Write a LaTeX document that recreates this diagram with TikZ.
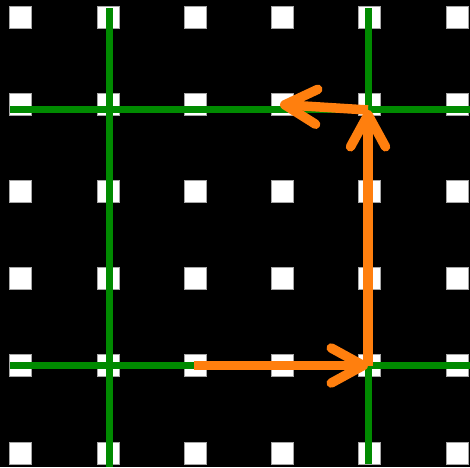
\documentclass[tikz,border=0pt]{standalone}
\usetikzlibrary{arrows.meta}
\definecolor{gridgreen}{RGB}{0,138,0}
\definecolor{arroworange}{RGB}{255,127,14}
\begin{document}
\begin{tikzpicture}[x=1pt,y=1pt,
  dot/.style={fill=white,draw=black!35,line width=0.6pt,minimum size=22pt,inner sep=0pt,outer sep=0pt,rectangle},
  gline/.style={gridgreen,line width=7pt},
  oarrow/.style={arroworange,line width=9.5pt,line cap=butt,
    -{Straight Barb[length=32pt,width=35pt,round]}}]
\fill[black] (0,0) rectangle (470,-467);
\useasboundingbox (0,0) rectangle (470,-467);
% white squares
\foreach \i/\x in {0/20.5,1/108,2/195,3/282.5,4/369,5/457}{
  \foreach \j/\y in {0/17,1/104,2/191,3/278,4/365.5,5/453.5}{
    \node[dot] (s\i\j) at (\x,-\y) {};
  }
}
% green lines
\coordinate (v1t) at (109.5,-8);
\coordinate (v1b) at (109.5,-467);
\coordinate (v2t) at (368,-8);
\coordinate (v2b) at (368,-464);
\coordinate (h1l) at (10,-109.5);
\coordinate (h1r) at (470,-109.5);
\coordinate (h2l) at (10,-365.5);
\coordinate (h2r) at (470,-365.5);
\draw[gline] (v1t) -- (v1b);
\draw[gline] (v2t) -- (v2b);
\draw[gline] (h1l) -- (h1r);
\draw[gline] (h2l) -- (h2r);
% orange arrows
\coordinate (a0) at (194,-365.5);
\coordinate (a1) at (368,-365.5);
\coordinate (a2) at (368,-110);
\coordinate (a3) at (280,-104.5);
\draw[oarrow] (a0) -- (a1);
\draw[oarrow] (a1) -- (a2);
\draw[oarrow] (a2) -- (a3);
\end{tikzpicture}
\end{document}
